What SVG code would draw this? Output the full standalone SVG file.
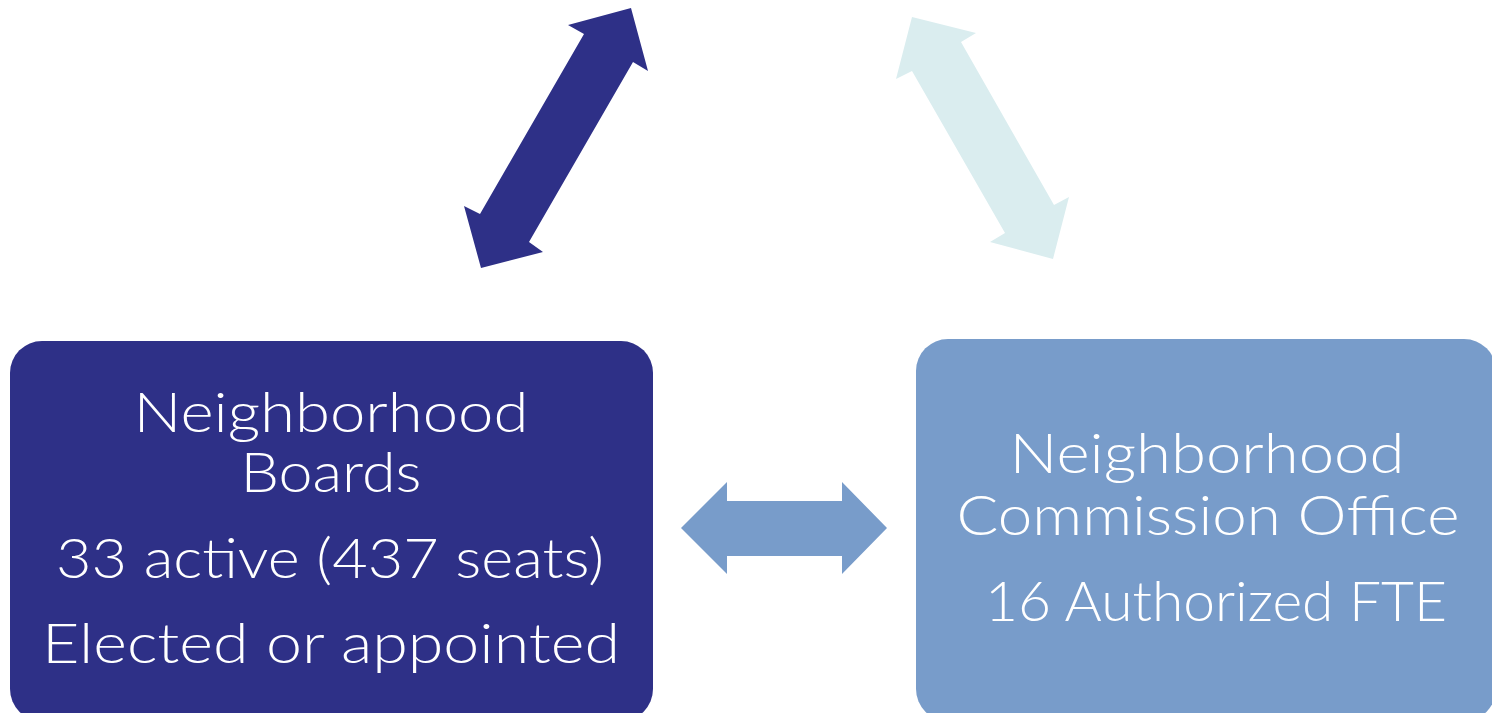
<svg xmlns="http://www.w3.org/2000/svg" width="1492" height="713" viewBox="0 0 1492 713">
<style>
.t{font-family:Lato,"Open Sans","Liberation Sans",sans-serif;font-weight:300;font-size:56px;fill:#ffffff;text-anchor:middle}
.dark{fill:#2E3087}
.mid{fill:#789CCA}
.light{fill:#DAEDEF}
</style>
<rect width="1492" height="713" fill="#ffffff"/>
<g id="connectors">
<polygon class="dark" points="631,8 648,71 633,62 529,242 543,252 481,268 464,206 480,214 584,34 568,25"/>
<polygon class="light" points="912,17 976,33 961,42 1054,205 1069,197 1053,259 990,242 1005,233 912,71 896,79"/>
<polygon class="mid" points="681,528 727,482 727,501 842,501 842,482 887,528 842,574 842,556 727,556 727,574"/>
</g>
<g id="neighborhood-boards">
<rect class="dark" x="10" y="341" width="643" height="380" rx="32"/>
<text class="t" x="331" y="432" textLength="395" lengthAdjust="spacingAndGlyphs">Neighborhood</text>
<text class="t" x="331" y="492" textLength="181" lengthAdjust="spacingAndGlyphs">Boards</text>
<text class="t" x="330" y="578" textLength="548" lengthAdjust="spacingAndGlyphs">33 active (437 seats)</text>
<text class="t" x="331" y="663" textLength="578" lengthAdjust="spacingAndGlyphs">Elected or appointed</text>
</g>
<g id="neighborhood-commission-office">
<rect class="mid" x="916" y="339" width="580" height="382" rx="32"/>
<text class="t" x="1207" y="473" textLength="395" lengthAdjust="spacingAndGlyphs">Neighborhood</text>
<text class="t" x="1208" y="535" textLength="503" lengthAdjust="spacingAndGlyphs">Commission Office</text>
<text class="t" x="1216" y="621" textLength="462" lengthAdjust="spacingAndGlyphs">16 Authorized FTE</text>
</g>
</svg>
